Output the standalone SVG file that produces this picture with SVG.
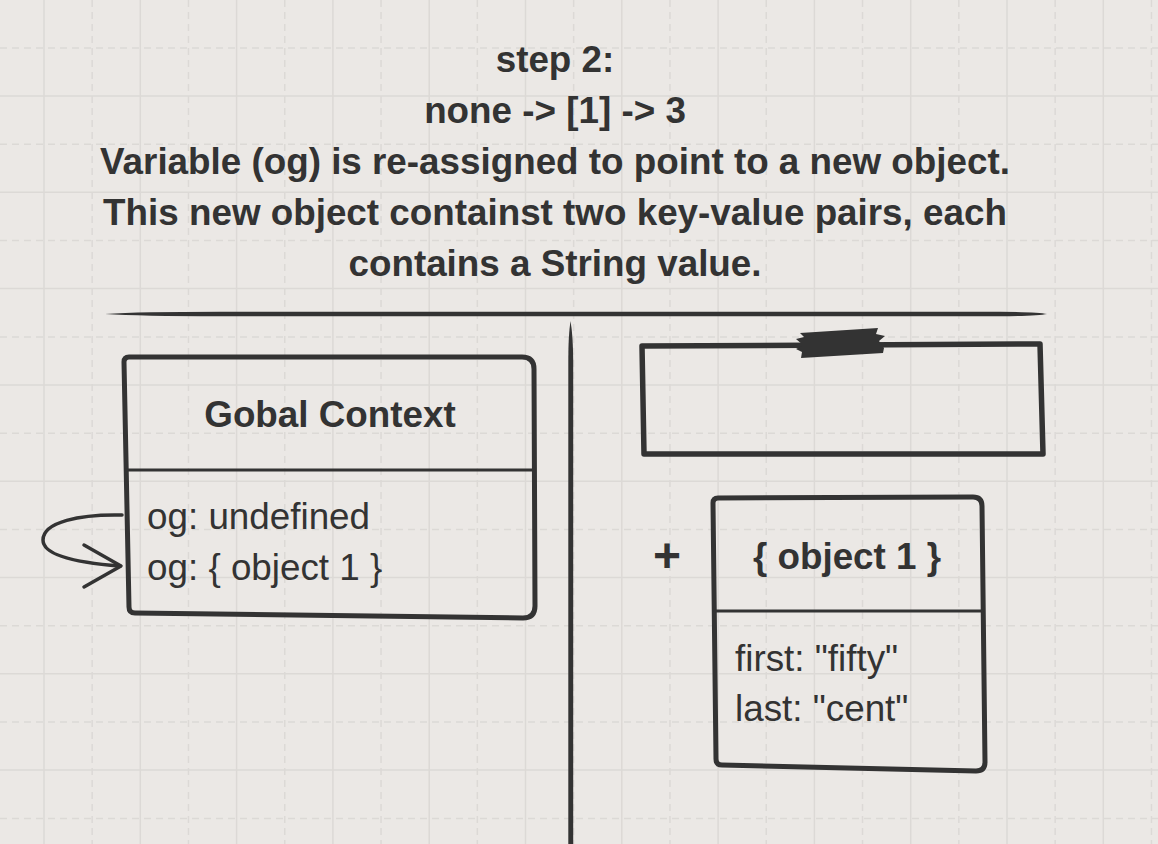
<svg xmlns="http://www.w3.org/2000/svg" width="1158" height="844" viewBox="0 0 1158 844">
<style>
.gs{stroke:#dcd9d6;stroke-width:1.5;fill:none}
.gd{stroke:#dcd9d6;stroke-width:1.5;fill:none;stroke-dasharray:7 5}
.ink{stroke:#333;fill:none;stroke-linejoin:round;stroke-linecap:round}
.fill{fill:#333}
.t{font-family:"Liberation Sans",Arial,Helvetica,sans-serif;font-size:36.8px;fill:#333}
.b{font-weight:bold}
.c{text-anchor:middle}
</style>
<rect width="1158" height="844" fill="#ebe8e5"/>
<g id="grid">
<path class="gs" d="M44 0V844M140.3 0V844M236.6 0V844M332.9 0V844M429.2 0V844M525.5 0V844M621.8 0V844M718.1 0V844M814.4 0V844M910.7 0V844M1007 0V844M1103.3 0V844M0 96H1158M0 192.3H1158M0 288.6H1158M0 384.9H1158M0 481.2H1158M0 577.5H1158M0 673.8H1158M0 770.1H1158"/>
<path class="gd" d="M92.15 0V844M188.45 0V844M284.75 0V844M381.05 0V844M477.35 0V844M573.65 0V844M669.95 0V844M766.25 0V844M862.55 0V844M958.85 0V844M1055.15 0V844M1151.45 0V844M0 48H1158M0 144.3H1158M0 240.6H1158M0 336.9H1158M0 433.2H1158M0 529.5H1158M0 625.8H1158M0 722.1H1158M0 818.4H1158"/>
</g>
<g id="title">
<text class="t b c" x="555" y="72">step 2:</text>
<text class="t b c" x="555" y="123">none -&gt; [1] -&gt; 3</text>
<text class="t b c" x="555" y="174">Variable (og) is re-assigned to point to a new object.</text>
<text class="t b c" x="555" y="225">This new object containst two key-value pairs, each</text>
<text class="t b c" x="555" y="276">contains a String value.</text>
</g>
<g id="dividers">
<path class="fill" d="M105 314 Q140 311.8 220 311.8 L1000 311.8 Q1038 312 1047 314 Q1038 316 1000 316.2 L220 316.2 Q140 316.2 105 314 Z"/>
<path class="fill" d="M570.5 321 Q568.3 335 568.3 360 L568.3 844 L573.2 844 L573.2 360 Q573 335 570.5 321 Z"/>
</g>
<g id="global-context">
<path class="ink" stroke-width="5" d="M124 362 Q124 357 129 357 L522 357 Q534 357 534 369 L535 606 Q535 618 523 618 L135 613 Q129 613 129 607 Z"/>
<path class="ink" stroke-width="3" d="M126 470 L532 470"/>
<text class="t b c" x="330" y="427">Gobal Context</text>
<text class="t" x="147" y="529">og: undefined</text>
<text class="t" x="147" y="580">og: { object 1 }</text>
</g>
<g id="heap-box">
<path class="ink" stroke-width="5.5" stroke-linejoin="miter" d="M642 346 L1040 344 L1043 454 L644 454 Z"/>
<path class="fill" d="M800 333 L878 328 L876 334 L885 336 L879 341 L884 348 L883 353 L801 358 L802 352 L796 349 L803 345 L796 339 L804 337 Z"/>
</g>
<g id="plus">
<text class="t b c" x="667" y="572" style="font-size:48px">+</text>
</g>
<g id="object-1">
<path class="ink" stroke-width="5" d="M713 503 Q713 498 718 498 L973 497 Q982 497 982 506 L985 762 Q985 771 976 771 L722 765 Q716 765 716 759 Z"/>
<path class="ink" stroke-width="3" d="M715 611 L982 611"/>
<text class="t b c" x="847" y="569">{ object 1 }</text>
<text class="t" x="735" y="671">first: "fifty"</text>
<text class="t" x="735" y="721">last: "cent"</text>
</g>
<g id="connectors">
<path class="ink" stroke-width="3.5" d="M122 515 C80 514 43 522 43 540 C43 556 80 563 120 566"/>
<path class="ink" stroke-width="3.5" d="M84 545 L121 566 L84 587"/>
</g>
</svg>
